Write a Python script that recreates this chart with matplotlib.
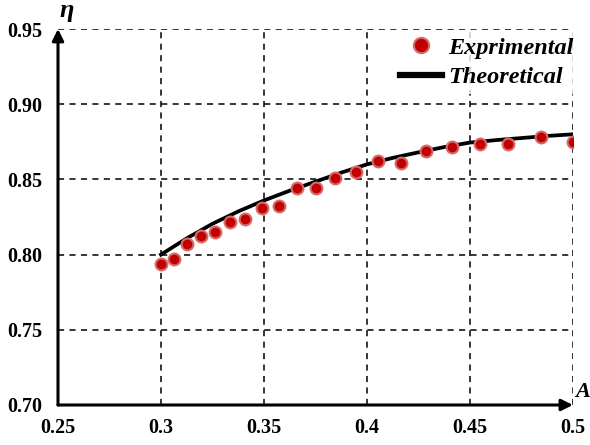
import numpy as np
import matplotlib
matplotlib.use('Agg')
import matplotlib.pyplot as plt

# experimental points
A_exp = [0.300, 0.3063, 0.3126, 0.3194, 0.3262, 0.3335, 0.3408, 0.3491, 0.3573, 0.3660,
         0.3752, 0.3845, 0.3947, 0.4053, 0.4165, 0.4286, 0.4413, 0.4549, 0.4685, 0.4845, 0.500]
eta_exp = [0.794, 0.797, 0.807, 0.8125, 0.815, 0.822, 0.824, 0.831, 0.8325, 0.844,
           0.8445, 0.851, 0.855, 0.862, 0.861, 0.869, 0.8715, 0.8733, 0.8738, 0.878, 0.875]

# theoretical curve
A_th = [0.300, 0.3125, 0.325, 0.3375, 0.350, 0.3625, 0.375, 0.3875, 0.400, 0.4125,
        0.425, 0.4375, 0.450, 0.4625, 0.475, 0.4875, 0.500]
eta_th = [0.800, 0.8108, 0.8205, 0.8287, 0.836, 0.8425, 0.8485, 0.8545, 0.8600, 0.8643,
          0.8680, 0.8715, 0.8745, 0.8761, 0.8775, 0.8789, 0.8800]

xticks = [0.25, 0.3, 0.35, 0.4, 0.45, 0.5]
xlabels = ['0.25', '0.3', '0.35', '0.4', '0.45', '0.5']
yticks = [0.70, 0.75, 0.80, 0.85, 0.90, 0.95]
ylabels = ['0.70', '0.75', '0.80', '0.85', '0.90', '0.95']

plt.rcParams['font.family'] = ['Liberation Serif', 'DejaVu Serif']

fig = plt.figure(figsize=(5.9, 4.45), dpi=100)
ax = fig.add_axes([0.0983, 0.0899, 0.8727, 0.8449])

ax.plot(A_th, eta_th, color='black', lw=2.7, zorder=3, label='Theoretical')
ax.plot(A_exp, eta_exp, 'o', color='#c00000', markersize=8.5,
        markeredgecolor='#d46a6a', markeredgewidth=1.5, zorder=4, label='Exprimental')

ax.set_xlim(0.25, 0.5)
ax.set_ylim(0.70, 0.95)
ax.set_xticks(xticks)
ax.set_xticklabels(xlabels)
ax.set_yticks(yticks)
ax.set_yticklabels(ylabels)
ax.tick_params(length=0, labelsize=14.5)
ax.tick_params(axis='y', pad=11)
ax.tick_params(axis='x', pad=9.5)
for t in ax.get_xticklabels() + ax.get_yticklabels():
    t.set_fontweight('bold')

ax.grid(True, color='black', linestyle=(0, (4, 3.5)), lw=1.1)
for s in ax.spines.values():
    s.set_visible(False)

# axes with arrows
ax.annotate('', xy=(0, 1), xytext=(0, 0), xycoords='axes fraction',
            arrowprops=dict(arrowstyle='-|>', color='black', lw=2.2, mutation_scale=17,
                            shrinkA=0, shrinkB=0), annotation_clip=False)
ax.annotate('', xy=(1, 0), xytext=(0, 0), xycoords='axes fraction',
            arrowprops=dict(arrowstyle='-|>', color='black', lw=2.2, mutation_scale=17,
                            shrinkA=0, shrinkB=0), annotation_clip=False)
ax.text(0.016, 1.048, 'η', transform=ax.transAxes, fontsize=19,
        fontweight='bold', style='italic', ha='center', va='center')
ax.text(1.004, 0.008, 'A', transform=ax.transAxes, fontsize=16, fontweight='bold',
        style='italic', ha='left', va='bottom')

handles, labels = ax.get_legend_handles_labels()
leg = ax.legend(handles[::-1], labels[::-1], loc='upper right', borderaxespad=0,
                bbox_to_anchor=(1.013, 0.995),
                frameon=True, framealpha=0.8, edgecolor='none', fancybox=False,
                prop=dict(family='Liberation Serif', weight='bold', style='italic', size=17.5),
                handlelength=1.75, handletextpad=0.25, labelspacing=0.3, borderpad=0.25)
leg.set_zorder(5)
lh = leg.legend_handles
for h in lh:
    if h.get_label() == 'Theoretical' or h.get_marker() in (None, 'None', ''):
        h.set_linewidth(4.5)
    else:
        h.set_markersize(11)

fig.savefig('out.png', dpi=100)
